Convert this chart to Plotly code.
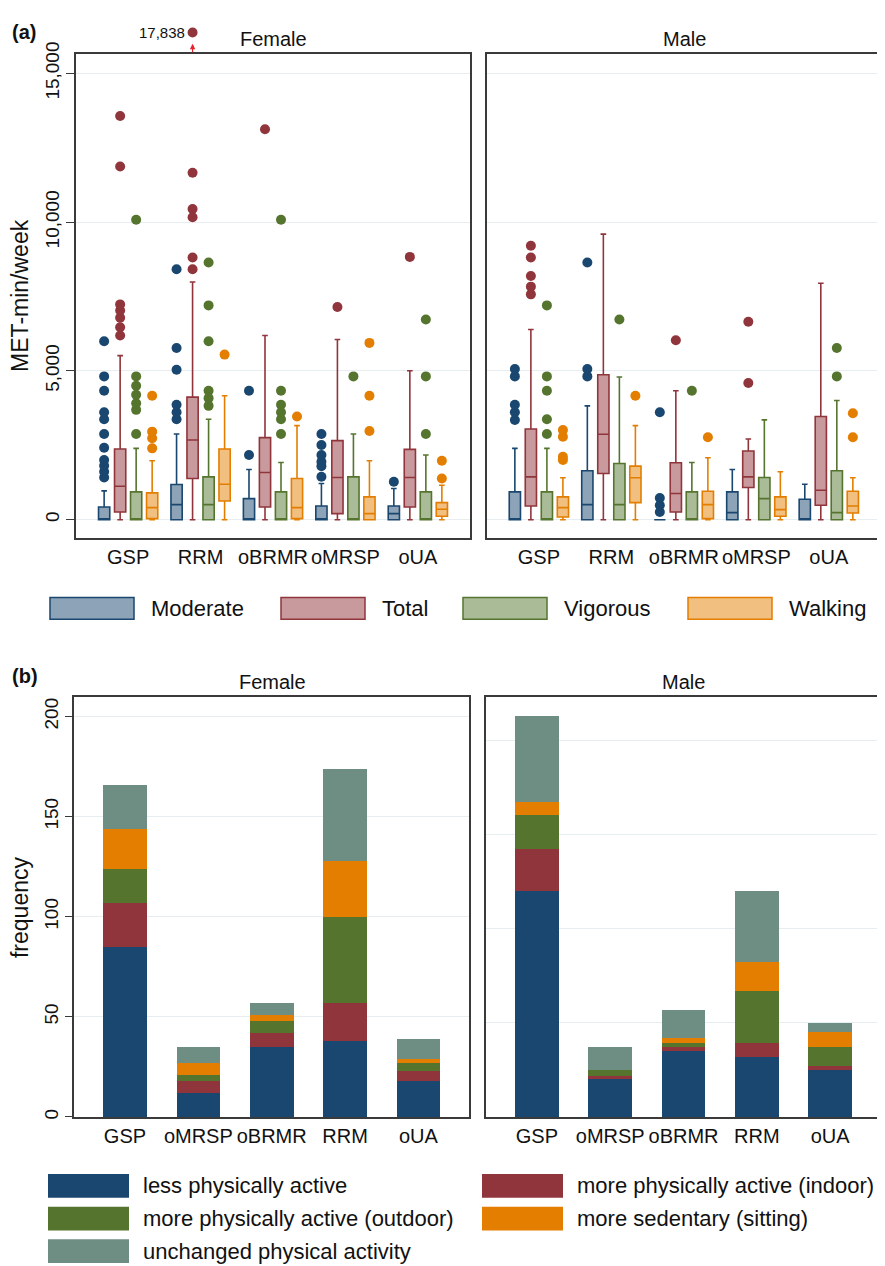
import plotly.graph_objects as go

# ---------------- DATA ----------------
cats_a = ["GSP", "RRM", "oBRMR", "oMRSP", "oUA"]
series_a = ["Moderate", "Total", "Vigorous", "Walking"]

# Female box statistics (per category in cats_a order)
F_MOD = dict(q1=[0, 0, 0, 0, 0], med=[0, 506, 0, 0, 203], q3=[428, 1182, 709, 461, 461],
             lo=[0, 0, 0, 0, 0], hi=[968, 2881, 1688, 1215, 1046],
             out=[[1418, 1609, 1812, 2003, 2419, 2881, 3376, 3612, 4332, 4816, 5998],
                  [3376, 3612, 3860, 5041, 5773, 8417],
                  [2172, 4332],
                  [1440, 1800, 1946, 2172, 2509, 2881],
                  [1272]])
F_TOT = dict(q1=[259, 1384, 428, 203, 428], med=[1125, 2678, 1587, 1418, 1418], q3=[2374, 4119, 2757, 2656, 2363],
             lo=[0, 0, 0, 0, 0], hi=[5514, 7990, 6189, 6054, 5006],
             out=[[6189, 6470, 6786, 7033, 7236, 11872, 13571],
                  [8417, 8811, 10162, 10443, 11658, 17838],
                  [13121],
                  [7146],
                  [8833]])
F_VIG = dict(q1=[0, 0, 0, 0, 0], med=[0, 506, 0, 0, 0], q3=[934, 1440, 934, 1440, 934],
             lo=[0, 0, 0, 0, 0], hi=[2397, 3376, 1924, 2881, 2172],
             out=[[2881, 3691, 3916, 4197, 4501, 4816, 10083],
                  [3826, 4085, 4332, 5998, 7202, 8642],
                  [2881, 3376, 3612, 3860, 4332, 10083],
                  [4816],
                  [2881, 4816, 6729]])
F_WLK = dict(q1=[34, 630, 34, 0, 113], med=[405, 1193, 405, 203, 349], q3=[900, 2374, 1384, 765, 574],
             lo=[0, 0, 0, 0, 0], hi=[1980, 4164, 3162, 1980, 1159],
             out=[[2397, 2734, 2959, 4164],
                  [5548],
                  [3466],
                  [2982, 4164, 5942],
                  [1384, 1980]])

# Male box statistics
M_MOD = dict(q1=[0, 0, 0, 0, 0], med=[0, 506, 0, 236, 0], q3=[934, 1643, 0, 934, 686],
             lo=[0, 0, 0, 0, 0], hi=[2397, 3826, 0, 1688, 1193],
             out=[[3353, 3612, 3860, 4816, 5064],
                  [4816, 5064, 8642],
                  [259, 484, 731, 3612],
                  [],
                  []])
M_TOT = dict(q1=[461, 1553, 259, 1080, 484], med=[1440, 2869, 878, 1440, 990], q3=[3050, 4872, 1913, 2307, 3466],
             lo=[0, 0, 0, 0, 0], hi=[6392, 9599, 4332, 2712, 7945],
             out=[[7573, 7832, 8192, 8811, 9205],
                  [],
                  [6032],
                  [4591, 6651],
                  []])
M_VIG = dict(q1=[0, 0, 0, 0, 0], med=[0, 506, 0, 709, 236], q3=[934, 1890, 934, 1418, 1643],
             lo=[0, 0, 0, 0, 0], hi=[2397, 4794, 1924, 3353, 4006],
             out=[[2881, 3376, 4332, 4816, 7202],
                  [6729],
                  [4332],
                  [],
                  [4816, 5773]])
M_WLK = dict(q1=[90, 574, 34, 113, 225], med=[405, 1407, 506, 338, 461], q3=[765, 1800, 956, 765, 956],
             lo=[0, 0, 0, 0, 0], hi=[1407, 3162, 2082, 1609, 1407],
             out=[[2003, 2116, 2790, 3016],
                  [4164],
                  [2768],
                  [],
                  [2768, 3578]])

yticks_a = [0, 5000, 10000, 15000]

# Panel (b) stacked frequencies
cats_b = ["GSP", "oMRSP", "oBRMR", "RRM", "oUA"]
groups_b = ["less physically active", "more physically active (indoor)",
            "more physically active (outdoor)", "more sedentary (sitting)",
            "unchanged physical activity"]
female_less = [85, 12, 35, 38, 18]
female_indoor = [22, 6, 7, 19, 5]
female_outdoor = [17, 3, 6, 43, 4]
female_sitting = [20, 6, 3, 28, 2]
female_unchanged = [22, 8, 6, 46, 10]
male_less = [120, 20, 35, 32, 25]
male_indoor = [22, 2, 2, 7, 2]
male_outdoor = [18, 3, 2, 28, 10]
male_sitting = [7, 0, 3, 15, 8]
male_unchanged = [46, 12, 15, 38, 5]
yticks_b = [0, 50, 100, 150, 200]

# ---------------- STYLE ----------------
# the page body has an 8px margin, so the figure is drawn 8px in from the window corner
OFF = 8
W, H = 885 - OFF, 1266 - OFF
FONT = "Liberation Sans, Arial, Helvetica, sans-serif"
line_cols = {"Moderate": "#1a476f", "Total": "#90353b", "Vigorous": "#55752f", "Walking": "#e37e00"}
fill_cols = {"Moderate": "#8da3b7", "Total": "#c89a9d", "Vigorous": "#aabb97", "Walking": "#f1bf80"}
bar_cols = ["#1a476f", "#90353b", "#55752f", "#e37e00", "#6e8e84"]
AXC = "#3a3a3a"
GRID = "#e6eef1"


def px(x):
    return (x - OFF) / W


def py(y):
    return 1 - (y - OFF) / H


offsets = [-0.3315, -0.1105, 0.1105, 0.3315]
box_w = 0.155

fig = go.Figure()

for sex_i, stats_list in enumerate([[F_MOD, F_TOT, F_VIG, F_WLK], [M_MOD, M_TOT, M_VIG, M_WLK]]):
    xa = "x" if sex_i == 0 else "x2"
    ya = "y" if sex_i == 0 else "y2"
    for s_i, (name, st) in enumerate(zip(series_a, stats_list)):
        xs = [i + offsets[s_i] for i in range(len(cats_a))]
        fig.add_trace(go.Box(
            x=xs, q1=st["q1"], median=st["med"], q3=st["q3"],
            lowerfence=st["lo"], upperfence=st["hi"],
            width=box_w, whiskerwidth=0.5, boxpoints=False,
            fillcolor=fill_cols[name], line=dict(color=line_cols[name], width=1.6),
            name=name, showlegend=False, xaxis=xa, yaxis=ya, hoverinfo="skip"))
        ox, oy = [], []
        for i, vals in enumerate(st["out"]):
            for v in vals:
                ox.append(xs[i])
                oy.append(v)
        fig.add_trace(go.Scatter(
            x=ox, y=oy, mode="markers",
            marker=dict(color=line_cols[name], size=10, line=dict(width=0)),
            showlegend=False, xaxis=xa, yaxis=ya, hoverinfo="skip"))

female_b = [female_less, female_indoor, female_outdoor, female_sitting, female_unchanged]
male_b = [male_less, male_indoor, male_outdoor, male_sitting, male_unchanged]
for sex_i, data in enumerate([female_b, male_b]):
    xa = "x3" if sex_i == 0 else "x4"
    ya = "y3" if sex_i == 0 else "y4"
    for g_i, vals in enumerate(data):
        fig.add_trace(go.Bar(
            x=list(range(len(cats_b))), y=vals, width=0.595,
            marker=dict(color=bar_cols[g_i], line=dict(width=0)),
            name=groups_b[g_i], showlegend=False, xaxis=xa, yaxis=ya, hoverinfo="skip"))

# ---------------- AXES ----------------
top_a, bot_a = 42.3, 532.3
zero_a = 513.3
scale_a = (513.3 - 62.0) / 15000.0
yr_a = [-(bot_a - zero_a) / scale_a, (zero_a - top_a) / scale_a]

top_b, bot_b = 692.7, 1117.3
yr_bf = [0, (bot_b - top_b) / ((bot_b - 712.3) / 200.0)]
yr_bm = [0, (bot_b - top_b) / ((bot_b - 736.2) / 200.0)]

common_x = dict(showline=True, linecolor=AXC, linewidth=1.5, mirror=True, showgrid=False,
                zeroline=False, ticks="", tickfont=dict(size=20, color="#111"),
                ticklabelstandoff=0)
common_y = dict(showline=True, linecolor=AXC, linewidth=1.5, mirror=True, showgrid=True,
                gridcolor=GRID, gridwidth=1.2, zeroline=False)

fig.update_layout(
    xaxis=dict(domain=[px(76), px(470)], range=[-0.72, 4.72], tickvals=list(range(5)),
               ticktext=cats_a, anchor="y", **common_x),
    yaxis=dict(domain=[py(bot_a), py(top_a)], range=yr_a, tickvals=yticks_a, tickformat=",",
               tickangle=-90, ticks="outside", ticklen=8, tickcolor=AXC,
               tickfont=dict(size=19, color="#111"), anchor="x", **common_y),
    xaxis2=dict(domain=[px(486.7), px(881)], range=[-0.72, 4.72], tickvals=list(range(5)),
                ticktext=cats_a, anchor="y2", **common_x),
    yaxis2=dict(domain=[py(bot_a), py(top_a)], range=yr_a, tickvals=yticks_a,
                showticklabels=False, ticks="", anchor="x2", **common_y),
    xaxis3=dict(domain=[px(74), px(469)], range=[-0.695, 4.69], tickvals=list(range(5)),
                ticktext=cats_b, anchor="y3", **common_x),
    yaxis3=dict(domain=[py(bot_b), py(top_b)], range=yr_bf, tickvals=yticks_b,
                tickangle=-90, ticks="outside", ticklen=7, tickcolor=AXC,
                tickfont=dict(size=19, color="#111"), anchor="x3", **common_y),
    xaxis4=dict(domain=[px(486), px(880.7)], range=[-0.695, 4.69], tickvals=list(range(5)),
                ticktext=cats_b, anchor="y4", **common_x),
    yaxis4=dict(domain=[py(bot_b), py(top_b)], range=yr_bm, tickvals=yticks_b,
                showticklabels=False, ticks="", anchor="x4", **common_y),
    barmode="stack",
    width=W, height=H,
    margin=dict(l=0, r=0, t=0, b=0),
    paper_bgcolor="white", plot_bgcolor="white",
    font=dict(family=FONT, color="#111"),
    showlegend=False,
)

ann = []
shapes = []


def txt(x, y, s, size, anchor="center", bold=False, angle=0):
    ann.append(dict(x=px(x), y=py(y), xref="paper", yref="paper", text=("<b>%s</b>" % s) if bold else s,
                    showarrow=False, xanchor=anchor, yanchor="middle", textangle=angle,
                    font=dict(size=size, family=FONT, color="#111")))


txt(10, 20, "(a)", 20, anchor="left", bold=True)
txt(10, 671, "(b)", 20, anchor="left", bold=True)
txt(273, 27, "Female", 20)
txt(684, 27, "Male", 20)
txt(272, 677, "Female", 20)
txt(683, 677, "Male", 20)
txt(20, 287, "MET-min/week", 23, angle=-90)
txt(20, 905, "frequency", 23, angle=-90)

# off-scale outlier marker (max of RRM Total, female)
rrm_i = cats_a.index("RRM")
big = max(F_TOT["out"][rrm_i])
xbig = rrm_i + offsets[1]
ann.append(dict(x=xbig, y=py(20.7), xref="x", yref="paper", text="{:,}".format(big),
                showarrow=False, xanchor="right", yanchor="middle", xshift=-6,
                font=dict(size=15, family=FONT, color="#111")))
ann.append(dict(x=xbig, y=py(32), xref="x", yref="paper", ax=0, ay=10, text="",
                showarrow=True, arrowhead=2, arrowsize=0.9, arrowwidth=1.2, arrowcolor="#e8202a"))
shapes.append(dict(type="circle", xref="x", yref="paper",
                   x0=xbig - 5 / 72.46, x1=xbig + 5 / 72.46, y0=py(25.7), y1=py(15.7),
                   fillcolor=line_cols["Total"], line=dict(width=0)))

# legend (a)
leg_a_x = [50, 281, 463, 688]
for name, x0 in zip(series_a, leg_a_x):
    shapes.append(dict(type="rect", xref="paper", yref="paper", x0=px(x0), x1=px(x0 + 84),
                       y0=py(614), y1=py(592), fillcolor=fill_cols[name],
                       line=dict(color=line_cols[name], width=1.5)))
    txt(x0 + 99, 603, name, 22, anchor="left")

# legend (b)
leg_b_pos = [(48, 1187), (482, 1187), (48, 1220), (482, 1220), (48, 1253)]
for g_i, (x0, yc) in enumerate(leg_b_pos):
    shapes.append(dict(type="rect", xref="paper", yref="paper", x0=px(x0), x1=px(x0 + 81),
                       y0=py(yc + 12), y1=py(yc - 12), fillcolor=bar_cols[g_i],
                       line=dict(width=0)))
    txt(x0 + 93, yc, groups_b[g_i], 22, anchor="left")

fig.update_layout(annotations=ann, shapes=shapes)
fig.write_html("out.html")
